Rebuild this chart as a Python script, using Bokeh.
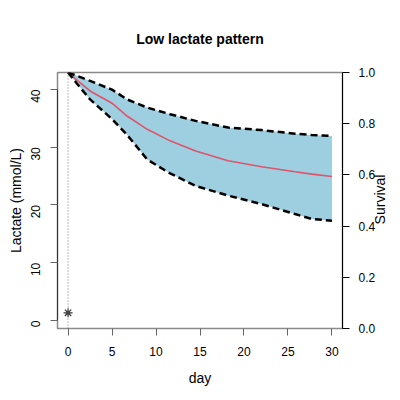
from bokeh.plotting import figure
from bokeh.models import Range1d, LinearAxis, FixedTicker, PrintfTickFormatter, Span, Label
from bokeh.embed import file_html
from bokeh.resources import INLINE
import math

# ---- data ----
title_text = "Low lactate pattern"
days = [0, 1, 2.5, 5, 6.7, 9, 11.6, 14.5, 18.2, 22, 25.8, 27.7, 30]
surv_upper = [1.0, 0.987, 0.967, 0.933, 0.895, 0.863, 0.837, 0.811, 0.785, 0.775, 0.761, 0.756, 0.752]
surv_mid = [1.0, 0.970, 0.928, 0.880, 0.830, 0.778, 0.733, 0.693, 0.655, 0.632, 0.612, 0.603, 0.594]
surv_lower = [1.0, 0.957, 0.895, 0.818, 0.757, 0.660, 0.606, 0.557, 0.519, 0.486, 0.447, 0.428, 0.421]
lactate_day = [0]
lactate_val = [1.33]
x_ticks = [0, 5, 10, 15, 20, 25, 30]
y_ticks = [0, 10, 20, 30, 40]
surv_ticks = [0.0, 0.2, 0.4, 0.6, 0.8, 1.0]

FONT = "Liberation Sans"
XMIN, XMAX = -1.2, 31.2
YMIN, YMAX = -1.385, 42.94

p = figure(frame_width=285, frame_height=256,
           min_border_left=57, min_border_right=42,
           min_border_top=72, min_border_bottom=56,
           x_range=Range1d(XMIN, XMAX), y_range=Range1d(YMIN, YMAX),
           output_backend="svg", toolbar_location=None,
           background_fill_color="white", border_fill_color="white")
p.xgrid.visible = False
p.ygrid.visible = False
p.outline_line_color = "#8a8a8a"
p.outline_line_width = 1.5

p.title.text = title_text
p.title.align = "center"
p.title.text_font = FONT
p.title.text_font_size = "14px"
p.title.text_font_style = "bold"
p.title.text_color = "black"
p.title.standoff = 52

p.extra_y_ranges = {"surv": Range1d(0, 1)}

# bottom axis
xa = p.xaxis[0]
xa.ticker = FixedTicker(ticks=x_ticks)
xa.bounds = (0, 30)
xa.axis_line_color = "#8a8a8a"
xa.major_tick_line_color = "#666666"
xa.major_tick_out = 7
xa.major_tick_in = 0
xa.minor_tick_line_color = None
xa.major_label_text_font = FONT
xa.major_label_text_font_size = "12px"
xa.major_label_text_color = "#000000"
xa.major_label_standoff = 11
xa.axis_label = "day"
xa.axis_label_text_font = FONT
xa.axis_label_text_font_size = "14px"
xa.axis_label_text_font_style = "normal"
xa.axis_label_text_color = "black"
xa.axis_label_standoff = 11

# left axis
ya = p.yaxis[0]
ya.ticker = FixedTicker(ticks=y_ticks)
ya.bounds = (0, 40)
ya.axis_line_color = "#333333"
ya.major_tick_line_color = "#666666"
ya.major_tick_out = 7
ya.major_tick_in = 0
ya.minor_tick_line_color = None
ya.major_label_orientation = math.pi / 2
ya.major_label_text_font = FONT
ya.major_label_text_font_size = "12px"
ya.major_label_text_color = "#000000"
ya.major_label_standoff = 15
ya.axis_label = "Lactate (mmol/L)"
ya.axis_label_text_font = FONT
ya.axis_label_text_font_size = "14px"
ya.axis_label_text_font_style = "normal"
ya.axis_label_text_color = "black"
ya.axis_label_standoff = 0

# right axis
ra = LinearAxis(y_range_name="surv", ticker=FixedTicker(ticks=surv_ticks),
                formatter=PrintfTickFormatter(format="%.1f"))
ra.bounds = (0, 1)
ra.axis_line_color = "black"
ra.major_tick_line_color = "black"
ra.major_tick_out = 7
ra.major_tick_in = 0
ra.minor_tick_line_color = None
ra.major_label_text_font = FONT
ra.major_label_text_font_size = "12px"
ra.major_label_text_color = "#000000"
ra.major_label_standoff = 9
p.add_layout(ra, "right")

# "Survival" label placed in the right side panel, reading bottom-to-top
surv_label = Label(x=1, y=129, x_units="screen", y_units="screen",
                   text="Survival", angle=math.pi / 2,
                   text_align="center", text_baseline="middle",
                   text_font=FONT, text_font_size="14px", text_color="black")
p.add_layout(surv_label, "right")

# vertical dotted line at day 0
p.add_layout(Span(location=0, dimension="height", line_color="#777777",
                  line_dash="1 2", line_width=1))

# band and curves (survival scale)
p.varea(x=days, y1=surv_lower, y2=surv_upper, fill_color="#9ecfe0",
        y_range_name="surv")
p.line(days, surv_mid, line_color="#df536b", line_width=1.6, y_range_name="surv")
p.line(days, surv_upper, line_color="black", line_width=2.5, line_dash="7 4",
       y_range_name="surv")
p.line(days, surv_lower, line_color="black", line_width=2.5, line_dash="7 4",
       y_range_name="surv")

# lactate observation
p.scatter(lactate_day, lactate_val, marker="asterisk", size=9,
          line_color="#333333", line_width=1.2)

open("out.html", "w").write(file_html(p, INLINE))
